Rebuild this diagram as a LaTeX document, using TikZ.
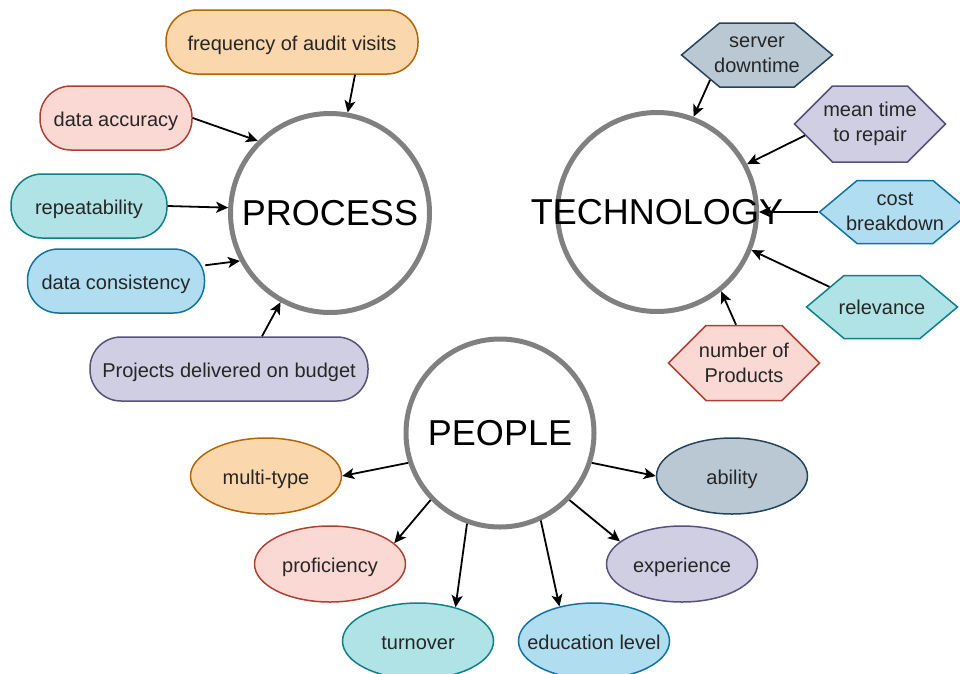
\documentclass[tikz,border=0pt]{standalone}
\usepackage{fontspec}
\setmainfont{Liberation Sans}
\usetikzlibrary{shapes,shapes.symbols,arrows.meta}
\definecolor{peachfill}{HTML}{FAD7AC}\definecolor{peachline}{HTML}{B46504}
\definecolor{rosefill}{HTML}{FAD9D5}\definecolor{roseline}{HTML}{AE4132}
\definecolor{tealfill}{HTML}{B0E3E6}\definecolor{tealline}{HTML}{0E8088}
\definecolor{skyfill}{HTML}{B1DDF0}\definecolor{skyline}{HTML}{10739E}
\definecolor{lilacfill}{HTML}{D0CEE2}\definecolor{lilacline}{HTML}{56517E}
\definecolor{slatefill}{HTML}{BAC8D3}\definecolor{slateline}{HTML}{23445D}
\tikzstyle{hub}=[circle, draw=black!50, line width=5pt, fill=white, text=black,
  minimum size=199pt, inner sep=-100pt, font=\fontsize{36}{43}\selectfont]

\begin{document}
\begin{tikzpicture}
      [x=1pt, y=-1pt, auto,
      >={Stealth[length=12pt,width=11pt,inset=3pt]},
      every node/.style={text=black!85, font=\fontsize{20}{25}\selectfont},
      link/.style={line width=1.8pt},
      pill/.style={rectangle, rounded corners=31pt, draw, line width=1.5pt,
        minimum height=64pt, inner xsep=0pt, text height=20pt, text depth=3pt},
      hexa/.style={signal, signal to=west and east, draw, line width=1.5pt,
        minimum width=151pt, inner xsep=-30pt, align=center, signal pointer angle=80},
      blob/.style={ellipse, draw, line width=1.5pt, minimum width=151pt,
        minimum height=76pt, inner xsep=-40pt, text height=20pt, text depth=3pt},
      fillpeach/.style={fill=peachfill, draw=peachline},
      fillrose/.style={fill=rosefill, draw=roseline},
      fillteal/.style={fill=tealfill, draw=tealline},
      fillsky/.style={fill=skyfill, draw=skyline},
      filllilac/.style={fill=lilacfill, draw=lilacline},
      fillslate/.style={fill=slatefill, draw=slateline}]
      \useasboundingbox (0,0) rectangle (960,673);
      % Place nodes
      \node [hub] (process) at (330,213) {PROCESS};
      \node [hub] (tech) at (657,212) {TECHNOLOGY};
      \node [hub, minimum size=188pt] (people) at (500,433) {PEOPLE};
      % process side
      \node [pill, fillpeach, minimum width=252pt, above of=process, node distance=171pt, xshift=-38pt] (freq) {frequency of audit visits};
      \node [pill, fillrose, minimum width=152pt, left of=process, node distance=214pt, yshift=95pt] (accuracy) {data accuracy};
      \node [pill, fillteal, minimum width=156pt, left of=process, node distance=241pt, yshift=7pt] (repeatab) {repeatability};
      \node [pill, fillsky, minimum width=177pt, left of=process, node distance=214pt, yshift=-68pt] (consist) {data consistency};
      \node [pill, filllilac, minimum width=278pt, below of=process, node distance=156pt, xshift=-101pt] (budget) {Projects delivered on budget};
      % technology side
      \node [hexa, fillslate, minimum height=64pt, above of=tech, node distance=157pt, xshift=100pt] (downtime) {server\\downtime};
      \node [hexa, filllilac, minimum height=76pt, signal pointer angle=90, right of=tech, node distance=213pt, yshift=88pt] (mttr) {mean time\\to repair};
      \node [hexa, fillsky, minimum height=63pt, right of=tech, node distance=238pt] (cost) {cost\\breakdown};
      \node [hexa, fillteal, minimum height=63pt, right of=tech, node distance=225pt, yshift=-95pt] (relevance) {relevance};
      \node [hexa, fillrose, minimum height=75pt, signal pointer angle=90, below of=tech, node distance=151pt, xshift=87pt] (products) {number of\\Products};
      % people side
      \node [blob, fillpeach, left of=people, node distance=234pt, yshift=-43pt] (multitype) {multi-type};
      \node [blob, fillrose, below of=people, node distance=131pt, xshift=-170pt] (profic) {proficiency};
      \node [blob, fillteal, below of=people, node distance=208pt, xshift=-82pt] (turnover) {turnover};
      \node [blob, fillsky, below of=people, node distance=208pt, xshift=94pt] (education) {education level};
      \node [blob, filllilac, below of=people, node distance=131pt, xshift=182pt] (experience) {experience};
      \node [blob, fillslate, right of=people, node distance=232pt, yshift=-43pt] (ability) {ability};
      % Draw edges
      \draw [->, link] ([xshift=63pt]freq.south) -- (process.80);
      \draw [->, link] (accuracy.east) -- (process.135);
      \draw [->, link] (repeatab.east) -- (process.177);
      \draw [->, link] (consist.10) -- (process.208);
      \draw [->, link] ([xshift=33pt]budget.north) -- (process.241);
      \draw [->, link] (downtime.208) -- (tech.69);
      \draw [->, link] (mttr.190) -- (tech.28);
      \draw [->, link] (cost.west) -- (tech.0);
      \draw [->, link] (relevance.159) -- (tech.338);
      \draw [->, link] ([xshift=-8pt]products.north) -- (tech.309);
      \draw [->, link] (people.198) -- (multitype.east);
      \draw [->, link] (people.224) -- (profic.18);
      \draw [->, link] (people.250) -- (turnover.42);
      \draw [->, link] (people.295) -- (education.135);
      \draw [->, link] (people.316) -- (experience.160);
      \draw [->, link] (people.342) -- (ability.west);
    \end{tikzpicture}
\end{document}
